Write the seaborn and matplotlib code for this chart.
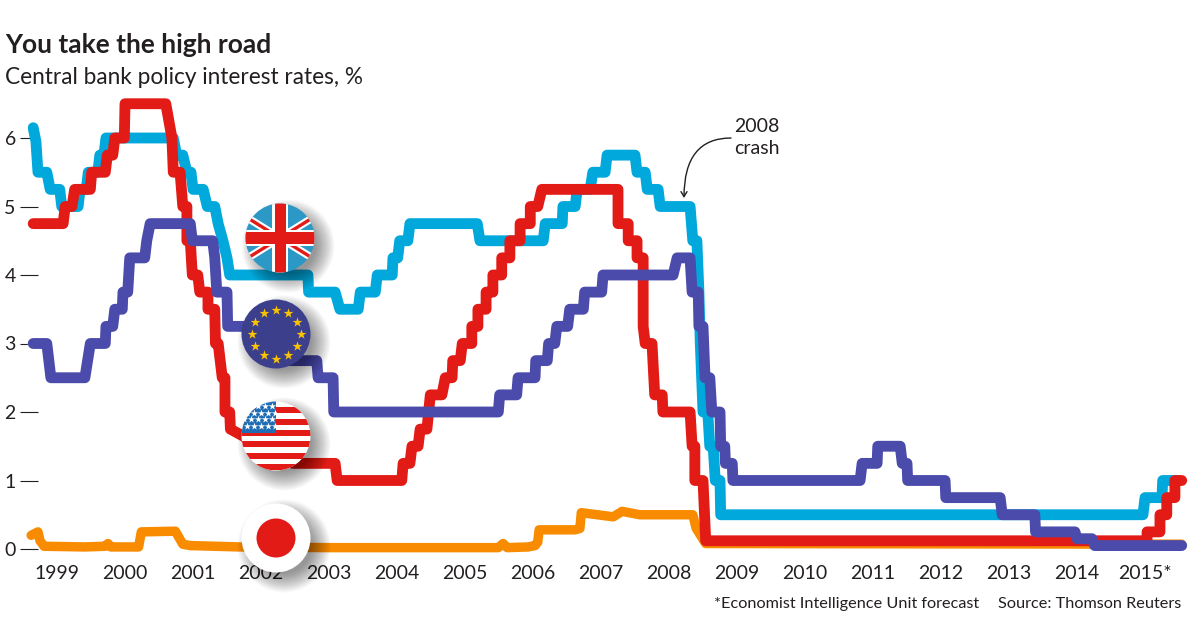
import numpy as np
import seaborn as sns
import matplotlib
matplotlib.use("Agg")
import matplotlib.pyplot as plt
from matplotlib.patches import Circle, Rectangle

# values: decimal years, rate in %
us_x = [1998.65, 1999.09, 1999.12, 1999.22, 1999.26, 1999.49, 1999.51, 1999.71, 1999.74, 1999.82,
        1999.85, 1999.99, 2000.00, 2000.60, 2000.69, 2000.71, 2000.81, 2000.85, 2000.91, 2000.91,
        2000.96, 2000.99, 2001.07, 2001.10, 2001.22, 2001.22, 2001.32, 2001.33, 2001.37, 2001.43,
        2001.47, 2001.47, 2001.54, 2001.55, 2002.47, 2003.09, 2003.12, 2004.07, 2004.09, 2004.19,
        2004.22, 2004.31, 2004.34, 2004.44, 2004.49, 2004.66, 2004.71, 2004.81, 2004.82, 2004.93,
        2004.96, 2005.10, 2005.10, 2005.19, 2005.19, 2005.31, 2005.31, 2005.41, 2005.41, 2005.54,
        2005.54, 2005.66, 2005.66, 2005.81, 2005.81, 2005.96, 2005.96, 2006.07, 2006.13, 2007.25,
        2007.25, 2007.40, 2007.40, 2007.53, 2007.53, 2007.62, 2007.62, 2007.65, 2007.75, 2007.79,
        2007.90, 2007.91, 2008.31, 2008.34, 2008.38, 2008.38, 2008.50, 2008.54, 2015.03, 2015.03,
        2015.22, 2015.22, 2015.32, 2015.32, 2015.44, 2015.44, 2015.54]
us_y = [4.75, 4.75, 5.00, 5.00, 5.25, 5.25, 5.50, 5.50, 5.75, 5.75,
        6.00, 6.00, 6.50, 6.50, 6.00, 5.50, 5.50, 5.00, 5.00, 4.50,
        4.50, 4.00, 4.00, 3.75, 3.75, 3.50, 3.50, 3.00, 3.00, 2.50,
        2.50, 2.00, 2.00, 1.75, 1.25, 1.25, 1.00, 1.00, 1.25, 1.25,
        1.50, 1.50, 1.75, 1.75, 2.25, 2.25, 2.50, 2.50, 2.75, 2.75,
        3.00, 3.00, 3.25, 3.25, 3.50, 3.50, 3.75, 3.75, 4.00, 4.00,
        4.25, 4.25, 4.50, 4.50, 4.75, 4.75, 5.00, 5.00, 5.25, 5.25,
        4.75, 4.75, 4.50, 4.50, 4.25, 4.25, 3.25, 3.00, 3.00, 2.25,
        2.25, 2.00, 2.00, 1.50, 1.50, 1.00, 1.00, 0.12, 0.12, 0.25,
        0.25, 0.50, 0.50, 0.75, 0.75, 1.00, 1.00]

uk_x = [1998.65, 1998.69, 1998.72, 1998.85, 1998.90, 1999.04, 1999.07, 1999.31, 1999.34, 1999.43,
        1999.46, 1999.60, 1999.63, 1999.69, 1999.72, 2000.71, 2000.76, 2000.85, 2000.91, 2000.97,
        2001.00, 2001.15, 2001.21, 2001.32, 2001.37, 2001.44, 2001.50, 2001.54, 2002.69, 2002.70,
        2003.09, 2003.16, 2003.43, 2003.46, 2003.68, 2003.71, 2003.93, 2003.94, 2004.01, 2004.04,
        2004.16, 2004.19, 2005.18, 2005.22, 2006.15, 2006.18, 2006.43, 2006.44, 2006.62, 2006.65,
        2006.84, 2006.88, 2007.06, 2007.09, 2007.50, 2007.53, 2007.65, 2007.68, 2007.84, 2007.87,
        2008.31, 2008.35, 2008.41, 2008.44, 2008.46, 2008.50, 2008.57, 2008.60, 2008.65, 2008.68,
        2008.75, 2008.76, 2014.97, 2015.00, 2015.25, 2015.26, 2015.47]
uk_y = [6.15, 5.95, 5.50, 5.50, 5.25, 5.25, 5.00, 5.00, 5.25, 5.25,
        5.50, 5.50, 5.75, 5.75, 6.00, 6.00, 5.75, 5.75, 5.50, 5.50,
        5.25, 5.25, 5.00, 5.00, 4.75, 4.50, 4.25, 4.00, 4.00, 3.75,
        3.75, 3.50, 3.50, 3.75, 3.75, 4.00, 4.00, 4.25, 4.25, 4.50,
        4.50, 4.75, 4.75, 4.50, 4.50, 4.75, 4.75, 5.00, 5.00, 5.25,
        5.25, 5.50, 5.50, 5.75, 5.75, 5.50, 5.50, 5.25, 5.25, 5.00,
        5.00, 4.50, 4.50, 3.75, 3.00, 2.00, 2.00, 1.50, 1.50, 1.00,
        1.00, 0.50, 0.50, 0.75, 0.75, 1.00, 1.00]

euro_x = [1998.65, 1998.85, 1998.91, 1999.41, 1999.49, 1999.71, 1999.72, 1999.82, 1999.85, 1999.96,
          1999.97, 2000.04, 2000.07, 2000.29, 2000.32, 2000.37, 2000.96, 2000.99, 2001.03, 2001.29,
          2001.32, 2001.35, 2001.50, 2001.51, 2002.01, 2002.06, 2002.21, 2002.25, 2002.82, 2002.84,
          2003.06, 2003.07, 2005.49, 2005.51, 2005.76, 2005.78, 2006.03, 2006.04, 2006.21, 2006.23,
          2006.32, 2006.35, 2006.51, 2006.54, 2006.74, 2006.76, 2007.01, 2007.03, 2008.06, 2008.12,
          2008.31, 2008.34, 2008.43, 2008.44, 2008.50, 2008.53, 2008.60, 2008.63, 2008.75, 2008.76,
          2008.82, 2008.83, 2008.93, 2008.94, 2010.81, 2010.84, 2011.06, 2011.07, 2011.40, 2011.43,
          2011.50, 2011.51, 2012.06, 2012.07, 2012.87, 2012.90, 2013.38, 2013.39, 2013.97, 2014.00,
          2014.22, 2014.26, 2015.54]
euro_y = [3.00, 3.00, 2.50, 2.50, 3.00, 3.00, 3.25, 3.25, 3.50, 3.50,
          3.75, 3.75, 4.25, 4.25, 4.50, 4.75, 4.75, 4.50, 4.50, 4.50,
          4.25, 3.75, 3.75, 3.25, 3.25, 3.00, 3.00, 2.75, 2.75, 2.50,
          2.50, 2.00, 2.00, 2.25, 2.25, 2.50, 2.50, 2.75, 2.75, 3.00,
          3.00, 3.25, 3.25, 3.50, 3.50, 3.75, 3.75, 4.00, 4.00, 4.25,
          4.25, 3.75, 3.75, 3.25, 3.25, 2.50, 2.50, 2.00, 2.00, 1.50,
          1.50, 1.25, 1.25, 1.00, 1.00, 1.25, 1.25, 1.50, 1.50, 1.25,
          1.25, 1.00, 1.00, 0.75, 0.75, 0.50, 0.50, 0.25, 0.25, 0.15,
          0.15, 0.05, 0.05]

japan_x = [1998.62, 1998.72, 1998.75, 1998.81, 1999.41, 1999.71, 1999.75, 1999.79, 2000.20, 2000.24,
           2000.74, 2000.85, 2000.96, 2001.69, 2003.00, 2004.00, 2005.49, 2005.56, 2005.62, 2005.93,
           2006.03, 2006.07, 2006.09, 2006.62, 2006.69, 2006.71, 2007.18, 2007.31, 2007.57, 2008.35,
           2008.40, 2008.54, 2015.54]
japan_y = [0.20, 0.25, 0.12, 0.04, 0.03, 0.04, 0.08, 0.03, 0.03, 0.25,
           0.26, 0.07, 0.05, 0.03, 0.02, 0.02, 0.02, 0.08, 0.02, 0.03,
           0.05, 0.10, 0.28, 0.28, 0.30, 0.53, 0.47, 0.55, 0.50, 0.50,
           0.30, 0.08, 0.07]

year_ticks = list(range(1999, 2016))
year_labels = [str(y) for y in range(1999, 2015)] + ["2015*"]
rate_ticks = [0, 1, 2, 3, 4, 5, 6]

W, H = 1190, 620
INK = "#231f20"
BLUE, RED, PURPLE, ORANGE = "#00a8dc", "#e21b17", "#4a4bab", "#f88b00"

sns.set_theme(style="white")
plt.rcParams["font.family"] = ["Lato", "DejaVu Sans"]

fig = plt.figure(figsize=(W / 100, H / 100), dpi=100, facecolor="white")
# 68 px per year with 1999 at px 57; 68.5 px per point with 0 at px 549
left, right, top, bottom = 38, W, 85, 558
ax = fig.add_axes([left / W, (H - bottom) / H, (right - left) / W, (bottom - top) / H])
ax.set_xlim(1999 + (left - 57) / 68, 1999 + (right - 57) / 68)
ax.set_ylim((549 - bottom) / 68.5, (549 - top) / 68.5)

series = [(japan_x, japan_y, ORANGE, 6.8), (uk_x, uk_y, BLUE, 7.8),
          (us_x, us_y, RED, 7.8), (euro_x, euro_y, PURPLE, 7.8)]
for xs, ys, col, lw in series:
    sns.lineplot(x=xs, y=ys, color=col, linewidth=lw, sort=False, estimator=None, ax=ax,
                 solid_capstyle="round", solid_joinstyle="round", clip_on=False)

sns.despine(ax=ax, left=True, bottom=True)
ax.set_xticks(year_ticks, year_labels)
ax.set_yticks(rate_ticks)
ax.tick_params(axis="x", length=0, pad=5, labelsize=14, labelcolor=INK)
ax.tick_params(axis="y", left=True, length=13, width=0.8, color=INK, pad=3, labelsize=14, labelcolor=INK)
ax.set_xlabel("")
ax.set_ylabel("")
# the tick at 3 stops short of the line
ax.add_patch(Rectangle((28 / W, 1 - 348 / H), 9 / W, 10 / H, transform=fig.transFigure,
                       color="white", zorder=1.8, clip_on=False))

fig.text(5 / W, 1 - 53 / H, "You take the high road", fontsize=19, fontweight="bold", color=INK, va="baseline")
fig.text(5 / W, 1 - 84 / H, "Central bank policy interest rates, %", fontsize=16.3, color=INK, va="baseline")
fig.text(714 / W, 1 - 608 / H, "*Economist Intelligence Unit forecast", fontsize=11.7, color=INK, va="baseline")
fig.text(1181 / W, 1 - 608 / H, "Source: Thomson Reuters", fontsize=11.7, color=INK, va="baseline", ha="right")

# pixel overlay for the annotation and the flags
ov = fig.add_axes([0, 0, 1, 1])
ov.set_xlim(0, W)
ov.set_ylim(H, 0)
ov.axis("off")
ov.patch.set_alpha(0)

ov.text(734, 132, "2008", fontsize=14, color=INK, va="baseline")
ov.text(734, 154, "crash", fontsize=14, color=INK, va="baseline")
ov.annotate("", xy=(684, 198), xytext=(731, 138),
            arrowprops=dict(arrowstyle="->,head_length=0.3,head_width=0.18", color=INK, lw=1,
                            connectionstyle="angle3,angleA=0,angleB=90", shrinkA=0, shrinkB=0))


def disc(cx, cy, r, col):
    # soft drop shadow, then the flag's ground
    for dr in range(12, -8, -1):
        ov.add_patch(Circle((cx + 8, cy + 8), r + dr, color="black", alpha=0.024, lw=0, zorder=4))
    c = Circle((cx, cy), r, color=col, lw=0, zorder=5)
    ov.add_patch(c)
    return c


# UK
cx, cy, r = 280, 238, 34.5
clip = disc(cx, cy, r, "#2b98c6")
for dx, dy in [(1, 0.62), (1, -0.62)]:
    a = ov.plot([cx - 40 * dx, cx + 40 * dx], [cy - 40 * dy, cy + 40 * dy], color="white", lw=5.5, zorder=6, solid_capstyle="butt")[0]
    b = ov.plot([cx - 40 * dx, cx + 40 * dx], [cy - 40 * dy, cy + 40 * dy], color=RED, lw=2.4, zorder=6, solid_capstyle="butt")[0]
    a.set_clip_path(clip)
    b.set_clip_path(clip)
for rect in [Rectangle((cx - 8, cy - 40), 16, 80, color="white", lw=0, zorder=7),
             Rectangle((cx - 40, cy - 8), 80, 16, color="white", lw=0, zorder=7),
             Rectangle((cx - 5.5, cy - 40), 11, 80, color=RED, lw=0, zorder=8),
             Rectangle((cx - 40, cy - 6), 80, 12, color=RED, lw=0, zorder=8)]:
    ov.add_patch(rect)
    rect.set_clip_path(clip)

# EU
cx, cy, r = 276, 334, 34.5
disc(cx, cy, r, "#3c3f8c")
angles = np.deg2rad(np.arange(0, 360, 30))
ov.scatter(cx + 24.5 * np.cos(angles), cy + 24.5 * np.sin(angles), marker="*", s=55, color="#fdc300", linewidths=0, zorder=6)

# US
cx, cy, r = 276, 436, 34.5
clip = disc(cx, cy, r, "white")
for sy in [410, 421.5, 433, 444, 456, 467]:
    rect = Rectangle((cx - 40, sy - 3), 80, 6, color=RED, lw=0, zorder=6)
    ov.add_patch(rect)
    rect.set_clip_path(clip)
canton = Rectangle((cx - 40, cy - 40), 40, 37, color="#1f6db5", lw=0, zorder=7)
ov.add_patch(canton)
canton.set_clip_path(clip)
gx, gy = np.meshgrid(np.arange(cx - 32, cx - 1, 7), np.arange(cy - 30, cy - 5, 6.5))
gx = gx + (np.arange(gx.shape[0])[:, None] % 2) * 3
stars = ov.scatter(gx.ravel(), gy.ravel(), marker="*", s=30, color="white", linewidths=0, zorder=8)
stars.set_clip_path(canton)

# Japan
cx, cy, r = 276, 538, 34.5
disc(cx, cy, r, "white")
ov.add_patch(Circle((cx, cy), 19.5, color=RED, lw=0, zorder=6))

fig.savefig("out.png", dpi=100, facecolor="white")
